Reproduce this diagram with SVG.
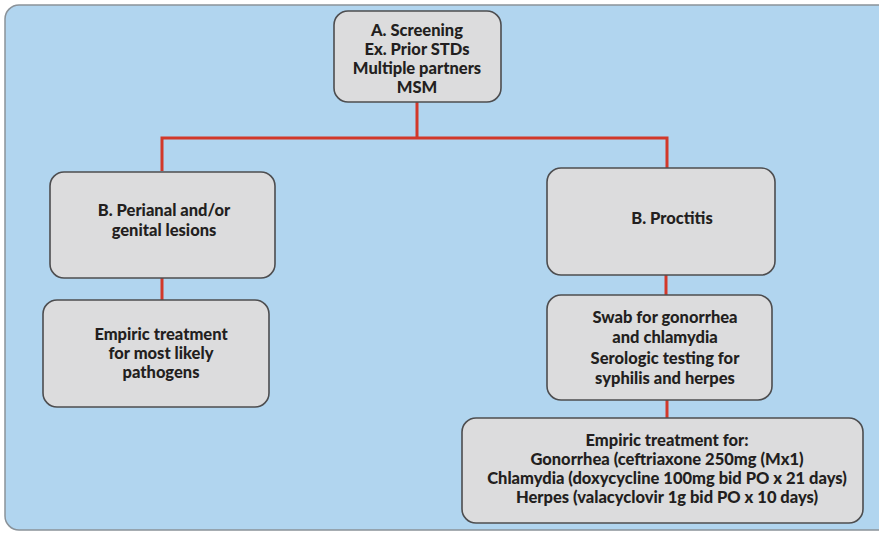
<svg xmlns="http://www.w3.org/2000/svg" width="879" height="536" viewBox="0 0 879 536">
<style>
.box{fill:#dcdcdd;stroke:#4d4d4f;stroke-width:1.6}
.t{font-family:Lato,"Liberation Sans",sans-serif;font-weight:900;font-size:16.5px;fill:#231f20;text-anchor:middle}
.c{fill:none;stroke:#d2382a;stroke-width:3;stroke-linejoin:miter}
</style>
<rect x="0" y="0" width="879" height="536" fill="#ffffff"/>
<rect x="5" y="5" width="900" height="525" rx="14" fill="#b1d5ef" stroke="#8a9299" stroke-width="1.5"/>
<g id="connectors">
<path class="c" d="M417,102 V138 M162,171 V138 H667 V169"/>
<path class="c" d="M162,278 V300"/>
<path class="c" d="M666,275 V295"/>
<path class="c" d="M667,400 V418"/>
</g>
<g id="A">
<rect class="box" x="334" y="11" width="167" height="91" rx="14"/>
<text class="t" x="417" y="36">A. Screening</text>
<text class="t" x="417" y="55">Ex. Prior STDs</text>
<text class="t" x="417" y="74">Multiple partners</text>
<text class="t" x="417" y="93">MSM</text>
</g>
<g id="B1">
<rect class="box" x="50" y="172" width="225" height="106" rx="14"/>
<text class="t" x="164" y="216">B. Perianal and/or</text>
<text class="t" x="164" y="236">genital lesions</text>
</g>
<g id="E1">
<rect class="box" x="43" y="300" width="226" height="107" rx="14"/>
<text class="t" x="161" y="340">Empiric treatment</text>
<text class="t" x="161" y="359">for most likely</text>
<text class="t" x="161" y="378">pathogens</text>
</g>
<g id="B2">
<rect class="box" x="547" y="168" width="228" height="107" rx="14"/>
<text class="t" x="672" y="224">B. Proctitis</text>
</g>
<g id="S">
<rect class="box" x="547" y="295" width="225" height="105" rx="14"/>
<text class="t" x="665" y="323">Swab for gonorrhea</text>
<text class="t" x="665" y="343">and chlamydia</text>
<text class="t" x="665" y="364">Serologic testing for</text>
<text class="t" x="665" y="384">syphilis and herpes</text>
</g>
<g id="E2">
<rect class="box" x="462" y="418" width="401" height="105" rx="14"/>
<text class="t" x="667" y="446">Empiric treatment for:</text>
<text class="t" x="667" y="465">Gonorrhea (ceftriaxone 250mg (Mx1)</text>
<text class="t" x="667" y="484">Chlamydia (doxycycline 100mg bid PO x 21 days)</text>
<text class="t" x="667" y="503">Herpes (valacyclovir 1g bid PO x 10 days)</text>
</g>
</svg>
